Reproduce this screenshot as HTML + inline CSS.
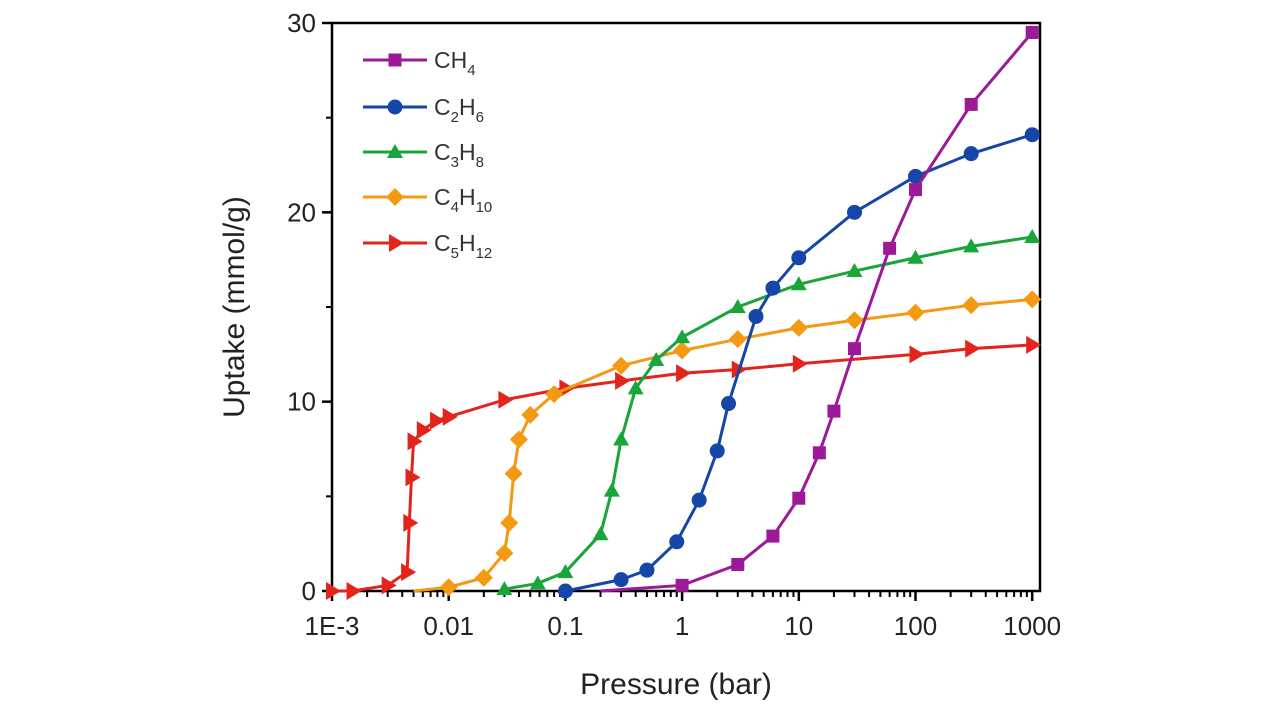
<!DOCTYPE html>
<html><head><meta charset="utf-8"><style>
body{margin:0;background:#fff}
svg{display:block;font-family:"Liberation Sans",Arial,sans-serif}
</style></head><body>
<svg id="chart" width="1283" height="709">
<g id="grid"></g><g id="series"></g><g id="legend"></g>
</svg>
<script>
const ch4X = [0.2,1,3,6,10,15,20,30,60,100,300,1000];
const ch4Y = [0,0.3,1.4,2.9,4.9,7.3,9.5,12.8,18.1,21.2,25.7,29.5];
const c2h6X = [0.1,0.3,0.5,0.9,1.4,2,2.5,4.3,6,10,30,100,300,1000];
const c2h6Y = [0,0.6,1.1,2.6,4.8,7.4,9.9,14.5,16,17.6,20,21.9,23.1,24.1];
const c3h8X = [0.03,0.058,0.1,0.2,0.25,0.3,0.4,0.6,1,3,10,30,100,300,1000];
const c3h8Y = [0.1,0.4,1,3,5.3,8,10.7,12.2,13.4,15,16.2,16.9,17.6,18.2,18.7];
const c4h10X = [0.005,0.01,0.02,0.03,0.033,0.036,0.04,0.05,0.08,0.3,1,3,10,30,100,300,1000];
const c4h10Y = [0,0.2,0.7,2,3.6,6.2,8,9.3,10.4,11.9,12.7,13.3,13.9,14.3,14.7,15.1,15.4];
const c5h12X = [0.001,0.0015,0.003,0.0044,0.0046,0.0048,0.005,0.006,0.0078,0.01,0.03,0.1,0.3,1,3,10,100,300,1000];
const c5h12Y = [0,0,0.3,1,3.6,6,7.9,8.5,9,9.2,10.1,10.7,11.1,11.5,11.7,12,12.5,12.8,13];
const xTickVals = [0.001,0.01,0.1,1,10,100,1000];
const xTickLabels = ["1E-3","0.01","0.1","1","10","100","1000"];
const yTickVals = [0,10,20,30];
const names = ["CH4","C2H6","C3H8","C4H10","C5H12"];

const NS="http://www.w3.org/2000/svg";
const L=332,R=1040,T=23,B=591,DEC=116.7;
const sx=v=>L+(Math.log10(v)+3)*DEC;
const sy=v=>B-(v/30)*(B-T);
function mk(tag,attrs,parent){const e=document.createElementNS(NS,tag);for(const k in attrs)e.setAttribute(k,attrs[k]);parent.appendChild(e);return e;}
const g=document.getElementById('grid');
const fr=mk('rect',{x:L,y:T,width:R-L,height:B-T,fill:'none',stroke:'#000','stroke-width':2.5},g);


xTickVals.forEach((v,i)=>{
  const x=sx(v);
  const t=mk('line',{x1:x,x2:x,y1:B,y2:B+10,stroke:'#000','stroke-width':2.5},g);
  
  
  const tx=mk('text',{x:x,y:B+44,'font-size':26,'text-anchor':'middle',fill:'#222'},g);
  tx.textContent=xTickLabels[i];
  
  
  if(i<xTickVals.length-1){for(let m=2;m<10;m++){const xm=sx(v*m);
    const mt=mk('line',{x1:xm,x2:xm,y1:B,y2:B+6,stroke:'#000','stroke-width':2},g);
    
    }}
});
yTickVals.forEach(v=>{
  const y=sy(v);
  const t=mk('line',{x1:L-10,x2:L,y1:y,y2:y,stroke:'#000','stroke-width':2.5},g);
  
  
  const tx=mk('text',{x:L-16,y:y+9,'font-size':26,'text-anchor':'end',fill:'#222'},g);
  tx.textContent=v;
  
  
  if(v<30){const ym=sy(v+5);const mt=mk('line',{x1:L-6,x2:L,y1:ym,y2:ym,stroke:'#000','stroke-width':2},g);
    
    }
});
const xl=mk('text',{x:676,y:694,'font-size':30,'text-anchor':'middle',fill:'#222'},g);
xl.textContent='Pressure (bar)';


const yl=mk('text',{x:0,y:0,'font-size':30,'text-anchor':'middle',fill:'#222',transform:'translate(244,307) rotate(-90)'},g);
yl.textContent='Uptake (mmol/g)';



const cols=['#9c1a97','#1546a8','#1aa53a','#f39a12','#e3241b'];
const data=[[ch4X,ch4Y],[c2h6X,c2h6Y],[c3h8X,c3h8Y],[c4h10X,c4h10Y],[c5h12X,c5h12Y]];
function marker(k,x,y,c,p){
  if(k==0)return mk('rect',{x:x-6.5,y:y-6.5,width:13,height:13,fill:c},p);
  if(k==1)return mk('circle',{cx:x,cy:y,r:7.5,fill:c},p);
  if(k==2)return mk('polygon',{points:`${x},${y-8} ${x+8},${y+6} ${x-8},${y+6}`,fill:c},p);
  if(k==3)return mk('polygon',{points:`${x},${y-9} ${x+9},${y} ${x},${y+9} ${x-9},${y}`,fill:c},p);
  return mk('polygon',{points:`${x-6},${y-9} ${x+9},${y} ${x-6},${y+9}`,fill:c},p);
}
const sg=document.getElementById('series');
data.slice().reverse().forEach((d,ri)=>{
  const k=4-ri;
  const grp=mk('g',{},sg);
  
  
  const pts=d[0].map((x,i)=>sx(x)+','+sy(d[1][i])).join(' ');
  const pl=mk('polyline',{points:pts,fill:'none',stroke:cols[k],'stroke-width':3},grp);
  
  
  d[0].forEach((x,i)=>{
    if(k==0&&i==0)return;
    if(k==3&&i==0)return;
    const m=marker(k,sx(x),sy(d[1][i]),cols[k],grp);
    
    
  });
});
const lg=document.getElementById('legend');
const subs=[['CH','4'],['C','2','H','6'],['C','3','H','8'],['C','4','H','10'],['C','5','H','12']];
const ly=[60,107,152,197,243];
subs.forEach((s,k)=>{
  const e=mk('g',{},lg);
  
  
  mk('line',{x1:363,x2:427,y1:ly[k],y2:ly[k],stroke:cols[k],'stroke-width':3},e);
  marker(k,395,ly[k],cols[k],e);
  const t=mk('text',{x:434,y:ly[k]+8,'font-size':23,fill:'#333'},e);
  s.forEach((p,i)=>{const ts=mk('tspan',i%2?{'font-size':15,dy:7}:{dy:i?-7:0},t);ts.textContent=p;});
});
</script>
</body></html>
